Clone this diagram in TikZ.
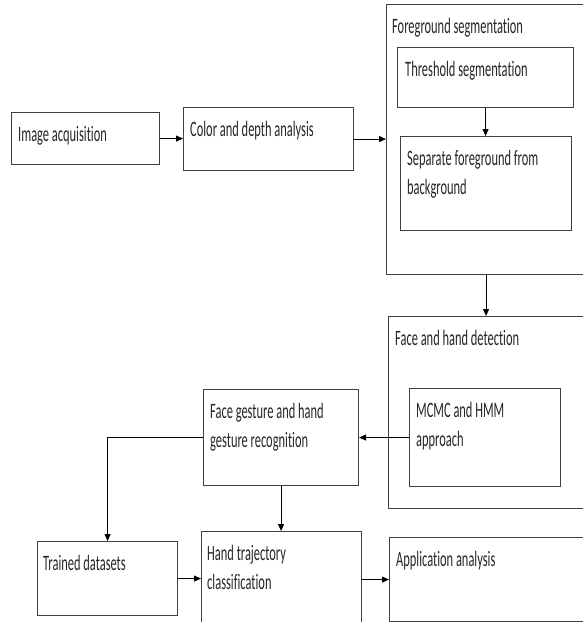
\documentclass[tikz,border=0pt]{standalone}
\usepackage{fontspec}
\setmainfont{Carlito}[FakeStretch=0.565, Ligatures=NoCommon]
\usetikzlibrary{arrows.meta}

\begin{document}
\begin{tikzpicture}[x=1pt, y=-1pt,
  box/.style={draw=black!75, line width=1.1pt, inner sep=0pt, anchor=north west},
  txt/.style={anchor=north west, inner sep=0pt, align=left, text=black!85,
    font=\fontsize{22}{29}\selectfont},
  >={Triangle[length=7pt,width=6pt]}]
\useasboundingbox (0,0) rectangle (583,622);

\node[box, minimum width=148pt, minimum height=52pt] (img) at (11,112) {};
\node[box, minimum width=170pt, minimum height=63pt] (color) at (183,107) {};
\node[box, minimum width=210pt, minimum height=270pt] (fg) at (386,4) {};
\node[box, minimum width=176pt, minimum height=60pt] (thr) at (397,47) {};
\node[box, minimum width=171pt, minimum height=94pt] (sep) at (400,136) {};
\node[box, minimum width=210pt, minimum height=192pt] (fhd) at (388,316) {};
\node[box, minimum width=151pt, minimum height=98pt] (mcmc) at (409,388) {};
\node[box, minimum width=155pt, minimum height=96pt] (fgr) at (203,389) {};
\node[box, minimum width=140pt, minimum height=74pt] (trn) at (37,541) {};
\node[box, minimum width=160pt, minimum height=100pt] (hand) at (201,531) {};
\node[box, minimum width=210pt, minimum height=84pt] (app) at (389,537) {};

\node[txt] (imgt) at ([shift={(7,14)}]img.north west) {Image acquisition};
\node[txt] (colort) at ([shift={(7,14)}]color.north west) {Color and depth analysis};
\node[txt] (fgt) at ([shift={(6,14)}]fg.north west) {Foreground segmentation};
\node[txt] (thrt) at ([shift={(8,14)}]thr.north west) {Threshold segmentation};
\node[txt] (sept) at ([shift={(7,14)}]sep.north west) {Separate foreground from\\background};
\node[txt] (fhdt) at ([shift={(7,14)}]fhd.north west) {Face and hand detection};
\node[txt] (mcmct) at ([shift={(7,14)}]mcmc.north west) {MCMC and HMM\\approach};
\node[txt] (fgrt) at ([shift={(7,14)}]fgr.north west) {Face gesture and hand\\gesture recognition};
\node[txt] (trnt) at ([shift={(6,14)}]trn.north west) {Trained datasets};
\node[txt] (handt) at ([shift={(6,14)}]hand.north west) {Hand trajectory\\classification};
\node[txt] (appt) at ([shift={(7,14)}]app.north west) {Application analysis};

\draw[->, line width=0.9pt] (img.east) -- (color.west |- img.east);
\draw[->, line width=0.9pt] (color.east) -- (fg.west |- color.east);
\draw[->, line width=0.9pt] (thr.south) -- (thr.south |- sep.north);
\draw[->, line width=0.9pt] (sep.south |- fg.south) -- (sep.south |- fhd.north);
\draw[->, line width=0.9pt] (mcmc.west) -- (fgr.east |- mcmc.west);
\draw[->, line width=0.9pt] (fgr.west) -| (trn.north);
\draw[->, line width=0.9pt] (fgr.south) -- (fgr.south |- hand.north);
\draw[->, line width=0.9pt] (trn.east) -- (hand.west |- trn.east);
\draw[->, line width=0.9pt] (app.west -| hand.east) -- (app.west);
\end{tikzpicture}
\end{document}
